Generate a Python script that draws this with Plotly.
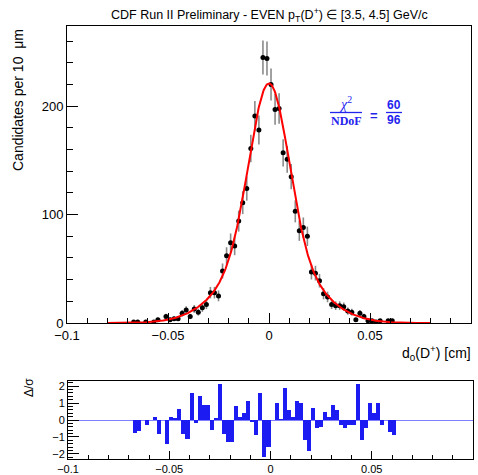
import numpy as np
import plotly.graph_objects as go

W, H = 478, 475


def fx(p):
    return p / W


def fy(p):
    return 1 - p / H


# Impact-parameter histogram (bin width 0.002 cm), non-empty bins
bin_centers = [-0.067, -0.065, -0.061, -0.057, -0.055, -0.051, -0.049, -0.047, -0.045,
               -0.043, -0.041, -0.039, -0.037, -0.035, -0.033, -0.031, -0.029, -0.027,
               -0.025, -0.023, -0.021, -0.019, -0.017, -0.015, -0.013, -0.011, -0.009,
               -0.007, -0.005, -0.003, -0.001, 0.001, 0.003, 0.005, 0.007, 0.009, 0.011,
               0.013, 0.015, 0.017, 0.019, 0.021, 0.023, 0.025, 0.027, 0.029, 0.031,
               0.033, 0.035, 0.037, 0.039, 0.041, 0.043, 0.045, 0.047, 0.049, 0.051,
               0.053, 0.055, 0.059, 0.061]
counts = [1, 1, 1, 1, 3, 6, 3, 4, 4,
          9, 12, 6, 13, 10, 14, 17, 28, 28,
          25, 48, 62, 74, 71, 94, 111, 124, 161,
          191, 178, 245, 244, 220, 197, 198, 157, 151, 135,
          103, 85, 88, 80, 47, 46, 39, 27, 24, 17,
          16, 16, 15, 11, 10, 3, 9, 6, 2, 2,
          1, 2, 2, 2]

# Pull of each bin, (fit - data) / sigma
pull_centers = [-0.067, -0.065, -0.063, -0.061, -0.059, -0.057, -0.055, -0.053, -0.051,
                -0.049, -0.047, -0.045, -0.043, -0.041, -0.039, -0.037, -0.035, -0.033,
                -0.031, -0.029, -0.027, -0.025, -0.023, -0.021, -0.019, -0.017, -0.015,
                -0.013, -0.011, -0.009, -0.007, -0.005, -0.003, -0.001, 0.001, 0.003,
                0.005, 0.007, 0.009, 0.011, 0.013, 0.015, 0.017, 0.019, 0.021, 0.023,
                0.025, 0.027, 0.029, 0.031, 0.033, 0.035, 0.037, 0.039, 0.041, 0.043,
                0.045, 0.047, 0.049, 0.051, 0.053, 0.055, 0.057, 0.059, 0.061]
pulls = [-0.75, -0.65, 0.0, -0.3, 0.0, 0.15, -0.8, 0.0, -1.4,
         0.15, 0.1, 0.65, -0.8, -1.1, 1.6, -0.2, 1.4, 0.9,
         0.9, -0.6, 0.1, 2.1, -0.8, -1.3, -1.3, 0.8, 0.2,
         0.4, 1.1, -0.1, -0.9, 1.6, -2.2, -1.6, 0.0, 1.0,
         0.05, 1.9, 0.6, 0.2, 1.1, 1.0, -1.2, -1.8, 0.7, -0.5,
         -0.4, 0.5, 0.2, 0.9, 0.6, -0.3, -0.5, -0.3, -0.3, 2.1,
         -1.2, -0.5, 1.0, 0.4, 1.0, -0.3, 0.0, -0.7, -0.9]

bin_width = 0.002

# Fit model: double Gaussian
fit_a1, fit_s1 = 155.0, 0.0096
fit_a2, fit_s2 = 66.0, 0.0202
fit_lo, fit_hi = -0.08, 0.08

x_fit = np.linspace(fit_lo, fit_hi, 600)
y_fit = (fit_a1 * np.exp(-x_fit**2 / (2 * fit_s1**2))
         + fit_a2 * np.exp(-x_fit**2 / (2 * fit_s2**2)))

x_tickvals = [-0.1, -0.05, 0, 0.05, 0.1]
x_ticktext = ["\u22120.1", "\u22120.05", "0", "0.05", "0.1"]
y_tickvals = [0, 100, 200]
y_ticktext = ["0", "100", "200"]
pull_tickvals = [-2, -1, 0, 1, 2]
pull_ticktext = ["\u22122", "\u22121", "0", "1", "2"]

FONT = "Liberation Sans, Arial, sans-serif"
BLUE = "#2323ee"

fig = go.Figure()

fig.add_trace(go.Scatter(
    x=bin_centers, y=counts, mode="markers",
    marker=dict(color="black", size=5),
    error_y=dict(type="data", array=np.sqrt(counts), color="#8a8a8a",
                 thickness=1.6, width=0),
    xaxis="x", yaxis="y", showlegend=False, hoverinfo="skip"))

fig.add_trace(go.Scatter(
    x=x_fit, y=y_fit, mode="lines",
    line=dict(color="#ff0000", width=2),
    xaxis="x", yaxis="y", showlegend=False, hoverinfo="skip"))

fig.add_trace(go.Bar(
    x=pull_centers, y=pulls, width=bin_width,
    marker=dict(color="#1c1cf2", line=dict(width=0)),
    xaxis="x2", yaxis="y2", showlegend=False, hoverinfo="skip"))

axis_common = dict(
    showline=True, linecolor="black", linewidth=1, mirror=True,
    ticks="inside", tickcolor="black", tickwidth=1,
    showgrid=False, zeroline=False, automargin=False,
    tickfont=dict(family=FONT, size=13, color="black"),
)

fig.update_layout(
    width=W, height=H,
    margin=dict(l=0, r=0, t=0, b=0, pad=0, autoexpand=False),
    paper_bgcolor="white", plot_bgcolor="white",
    bargap=0,
    xaxis=dict(axis_common, domain=[fx(67), fx(471)], range=[-0.1, 0.1],
               anchor="y", tickmode="array", tickvals=x_tickvals,
               ticktext=x_ticktext, ticklen=10,
               minor=dict(tickmode="linear", tick0=0, dtick=0.01,
                          ticks="inside", ticklen=5, tickcolor="black")),
    yaxis=dict(axis_common, domain=[fy(323), fy(26)], range=[0, 274],
               anchor="x", tickmode="array", tickvals=y_tickvals,
               ticktext=y_ticktext, ticklen=11,
               minor=dict(tickmode="linear", tick0=0, dtick=20,
                          ticks="inside", ticklen=6, tickcolor="black")),
    xaxis2=dict(axis_common, domain=[fx(68), fx(473)], range=[-0.1, 0.1],
                anchor="y2", tickmode="array", tickvals=x_tickvals,
                ticktext=x_ticktext, ticklen=8,
                tickfont=dict(family=FONT, size=11, color="black"),
                minor=dict(tickmode="linear", tick0=0, dtick=0.01,
                           ticks="inside", ticklen=4, tickcolor="black")),
    yaxis2=dict(axis_common, domain=[fy(459), fy(381)], range=[-2.3, 2.3],
                anchor="x2", tickmode="array", tickvals=pull_tickvals,
                ticktext=pull_ticktext, ticklen=11,
                tickfont=dict(family=FONT, size=11, color="black"),
                zeroline=True, zerolinecolor="#8080ff", zerolinewidth=1,
                minor=dict(tickmode="linear", tick0=0, dtick=0.2,
                           ticks="inside", ticklen=5, tickcolor="black")),
)

ann = []
ann.append(dict(
    text="CDF Run II Preliminary - EVEN p<sub>T</sub>(D<sup>+</sup>) \u2208 [3.5, 4.5] GeV/c",
    x=fx(269), y=fy(15), xref="paper", yref="paper",
    xanchor="center", yanchor="middle", showarrow=False,
    font=dict(family=FONT, size=12.5, color="black")))
ann.append(dict(
    text="Candidates per 10  \u03bcm", textangle=-90,
    x=fx(18), y=fy(27), xref="paper", yref="paper",
    xanchor="center", yanchor="top", showarrow=False,
    font=dict(family=FONT, size=14, color="black")))
ann.append(dict(
    text="d<sub>0</sub>(D<sup>+</sup>) [cm]",
    x=fx(473), y=fy(353), xref="paper", yref="paper",
    xanchor="right", yanchor="middle", showarrow=False,
    font=dict(family=FONT, size=14, color="black")))
ann.append(dict(
    text="\u0394/\u03c3", textangle=-90,
    x=fx(29), y=fy(388), xref="paper", yref="paper",
    xanchor="center", yanchor="middle", showarrow=False,
    font=dict(family=FONT, size=12, color="black")))

# chi2 / NDoF label written as stacked fractions
SERIF = "Liberation Serif, Times New Roman, serif"
ann.append(dict(text="<i>\u03c7</i><sup>2</sup>", x=fx(345), y=fy(103),
                xref="paper", yref="paper", xanchor="center", yanchor="middle",
                showarrow=False, font=dict(family=SERIF, size=14, color=BLUE)))
ann.append(dict(text="<b>NDoF</b>", x=fx(346), y=fy(121),
                xref="paper", yref="paper", xanchor="center", yanchor="middle",
                showarrow=False, font=dict(family=SERIF, size=12, color=BLUE)))
ann.append(dict(text="<b>=</b>", x=fx(374), y=fy(116), xref="paper", yref="paper",
                xanchor="center", yanchor="middle", showarrow=False,
                font=dict(family=FONT, size=13, color=BLUE)))
ann.append(dict(text="<b>60</b>", x=fx(394), y=fy(105), xref="paper", yref="paper",
                xanchor="center", yanchor="middle", showarrow=False,
                font=dict(family=FONT, size=12, color=BLUE)))
ann.append(dict(text="<b>96</b>", x=fx(394), y=fy(120), xref="paper", yref="paper",
                xanchor="center", yanchor="middle", showarrow=False,
                font=dict(family=FONT, size=12, color=BLUE)))

shapes = [
    dict(type="line", xref="paper", yref="paper", x0=fx(330), x1=fx(362),
         y0=fy(112.5), y1=fy(112.5), line=dict(color=BLUE, width=1.3)),
    dict(type="line", xref="paper", yref="paper", x0=fx(386), x1=fx(402),
         y0=fy(112.5), y1=fy(112.5), line=dict(color=BLUE, width=1.3)),
]

fig.update_layout(annotations=ann, shapes=shapes)

fig.write_html("out.html")
